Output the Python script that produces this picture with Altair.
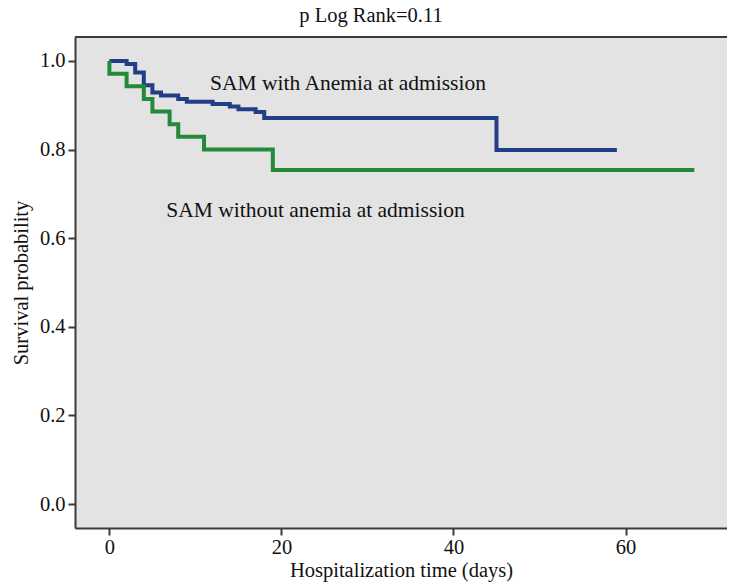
import altair as alt
import pandas as pd

# Kaplan-Meier steps
anemia_days = [0, 2, 3, 4, 5, 6, 8, 9, 12, 14, 15, 17, 18, 45, 59]
anemia_surv = [1.0, 0.993, 0.974, 0.945, 0.929, 0.922, 0.914, 0.908, 0.903, 0.897, 0.891, 0.885, 0.871, 0.799, 0.799]

no_anemia_days = [0, 0, 2, 4, 5, 7, 8, 11, 19, 68]
no_anemia_surv = [1.0, 0.971, 0.943, 0.914, 0.886, 0.857, 0.829, 0.800, 0.754, 0.754]

series_names = ["SAM with Anemia at admission", "SAM without anemia at admission"]
series_colors = ["#223e86", "#23893b"]

label_x = [11.7, 6.6]
label_y = [0.948, 0.662]

x_ticks = [0, 20, 40, 60]
y_ticks = [0.0, 0.2, 0.4, 0.6, 0.8, 1.0]

rows = []
for i, (d, s) in enumerate(zip(anemia_days, anemia_surv)):
    rows.append({"day": d, "surv": s, "group": series_names[0], "order": i})
for i, (d, s) in enumerate(zip(no_anemia_days, no_anemia_surv)):
    rows.append({"day": d, "surv": s, "group": series_names[1], "order": i})
df = pd.DataFrame(rows)

labels = pd.DataFrame({"day": label_x, "surv": label_y, "text": series_names})

FONT = "Liberation Serif"
W, H = 652, 491
AX_FS = 20.5

xscale = alt.Scale(domain=[-4, 71.8], nice=False, zero=False)
yscale = alt.Scale(domain=[-0.054, 1.054], nice=False, zero=False)

lines = alt.Chart(df).mark_line(interpolate="step-after", strokeWidth=4).encode(
    x=alt.X("day:Q", scale=xscale,
            axis=alt.Axis(values=x_ticks, title="Hospitalization time (days)", format="d",
                          grid=False, domainColor="#3a3a3a", domainWidth=2,
                          tickColor="#3a3a3a", tickWidth=2, tickSize=7,
                          labelFont=FONT, labelFontSize=AX_FS, labelColor="#111",
                          labelPadding=2, titleFont=FONT, titleFontSize=AX_FS,
                          titleFontWeight="normal", titleColor="#111", titlePadding=3)),
    y=alt.Y("surv:Q", scale=yscale,
            axis=alt.Axis(values=y_ticks, title="Survival probability", format=".1f",
                          grid=False, domainColor="#3a3a3a", domainWidth=2,
                          tickColor="#3a3a3a", tickWidth=2, tickSize=7,
                          labelFont=FONT, labelFontSize=AX_FS, labelColor="#111",
                          labelPadding=3, titleFont=FONT, titleFontSize=AX_FS,
                          titleFontWeight="normal", titleColor="#111", titlePadding=8)),
    color=alt.Color("group:N", scale=alt.Scale(domain=series_names, range=series_colors), legend=None),
    order="order:Q",
)

text = alt.Chart(labels).mark_text(align="left", baseline="middle", font=FONT,
                                   fontSize=21.5, color="#111").encode(
    x=alt.X("day:Q", scale=xscale),
    y=alt.Y("surv:Q", scale=yscale),
    text="text:N",
)

top_border = alt.Chart(pd.DataFrame({"a": [0]})).mark_rule(color="#3a3a3a", strokeWidth=2).encode(
    x=alt.value(0), x2=alt.value(W), y=alt.value(0)
)

chart = alt.layer(lines, text, top_border).properties(
    width=W, height=H,
    title=alt.TitleParams("p Log Rank=0.11", font=FONT, fontSize=AX_FS, fontWeight="normal",
                          color="#111", anchor="middle", dx=-30, offset=10),
    autosize=alt.AutoSizeParams(type="none"),
    padding={"left": 67, "top": 29, "right": 0, "bottom": 56},
).configure_view(fill="#e3e3e3", stroke="transparent", strokeWidth=0)

chart.save("out.html", embed_options={"renderer": "svg", "actions": False})
